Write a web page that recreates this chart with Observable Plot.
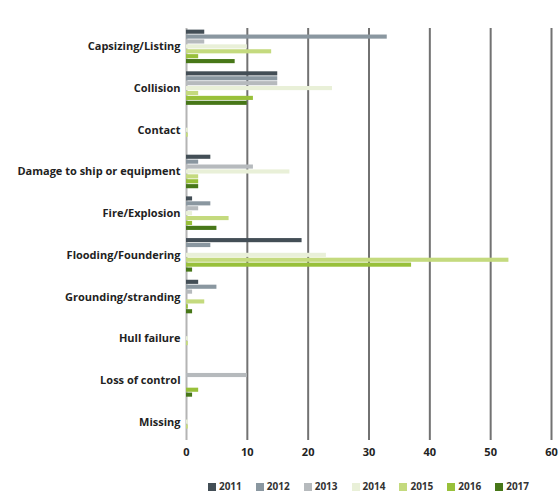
<!DOCTYPE html>
<html>
<head>
<meta charset="utf-8">
<script src="https://cdn.jsdelivr.net/npm/d3@7"></script>
<script src="https://cdn.jsdelivr.net/npm/@observablehq/plot@0.6"></script>
<style>
  body { margin: 0; background: #fff; }
  #chart svg { display: block; }
  .legend {
    display: flex; justify-content: center; align-items: center;
    padding: 9px 8px 0 186px; height: 14px;
    font: 700 10px "Open Sans", sans-serif; color: #333;
    gap: 14px;
  }
  .legend span.sw { display: inline-block; width: 8px; height: 8px; margin-right: 3px; vertical-align: -1px; }
</style>
</head>
<body>
<div id="chart"></div>
<script>
// Casualty events by type, 2011–2017
const categories = [
  "Capsizing/Listing", "Collision", "Contact", "Damage to ship or equipment",
  "Fire/Explosion", "Flooding/Foundering", "Grounding/stranding",
  "Hull failure", "Loss of control", "Missing"
];
const years = ["2011", "2012", "2013", "2014", "2015", "2016", "2017"];
const colors = ["#434e56", "#8a97a0", "#b6babd", "#e9f0d8", "#c4da7e", "#98c03a", "#477718"];

const v2011 = [3, 15, 0, 4, 1, 19, 2, 0, 0, 0];
const v2012 = [33, 15, 0, 2, 4, 4, 5, 0, 0, 0];
const v2013 = [3, 15, 0, 11, 2, 0, 1, 0, 10, 0];
const v2014 = [10, 24, 0.3, 17, 1, 23, 0, 0.3, 0, 0.3];
const v2015 = [14, 2, 0.3, 2, 7, 53, 3, 0.3, 0, 0.3];
const v2016 = [2, 11, 0, 2, 1, 37, 0.3, 0, 2, 0];
const v2017 = [8, 10, 0, 2, 5, 1, 1, 0, 1, 0];
const xTicks = [0, 10, 20, 30, 40, 50, 60];

const series = [v2011, v2012, v2013, v2014, v2015, v2016, v2017];
const groupStep = 8.5; // seven bars plus a gap per category
const labelOffset = 3;
const rows = categories.flatMap((category, g) =>
  years.map((year, i) => ({category, year, value: series[i][g], pos: g * groupStep + i}))
);

const chart = Plot.plot({
  width: 559,
  height: 470,
  marginLeft: 186,
  marginRight: 8,
  marginTop: 28,
  marginBottom: 30,
  style: {fontFamily: "'Open Sans', sans-serif", fontSize: "11px", fontWeight: 700, color: "#222", background: "#fff"},
  x: {domain: [0, 60], ticks: xTicks, tickSize: 0, tickPadding: 8, label: null},
  y: {
    domain: [-0.75, (categories.length - 1) * groupStep + years.length - 1 + 0.75],
    reverse: true,
    ticks: categories.map((c, g) => g * groupStep + labelOffset),
    tickFormat: d => categories[Math.round((d - labelOffset) / groupStep)],
    tickSize: 0,
    tickPadding: 6,
    label: null
  },
  color: {domain: years, range: colors},
  marks: [
    Plot.ruleX(xTicks.slice(1), {stroke: "#727272", strokeWidth: 2}),
    Plot.ruleX([0], {stroke: "#b4b4b4", strokeWidth: 2}),
    Plot.rectX(rows, {x1: 0, x2: "value", y1: d => d.pos - 0.42, y2: d => d.pos + 0.42, fill: "year"})
  ]
});
document.getElementById("chart").append(chart);

// Legend below the chart
const legend = document.createElement("div");
legend.className = "legend";
years.forEach((y, i) => {
  const item = document.createElement("div");
  const sw = document.createElement("span");
  sw.className = "sw";
  sw.style.background = colors[i];
  item.append(sw, document.createTextNode(y));
  legend.append(item);
});
document.body.append(legend);
</script>
</body>
</html>
